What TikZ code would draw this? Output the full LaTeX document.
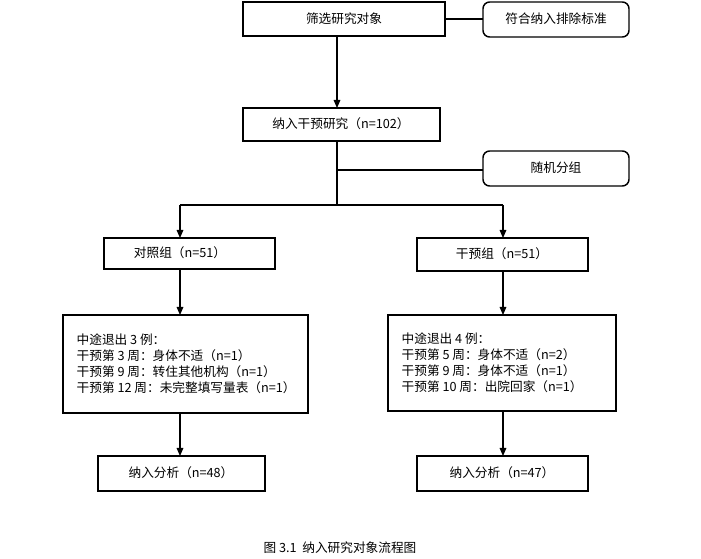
\documentclass[tikz,border=0pt]{standalone}
\usepackage{fontspec}
\setmainfont{Noto Sans CJK SC}
\usetikzlibrary{arrows.meta}
\begin{document}
\begin{tikzpicture}[x=0.75pt,y=-0.75pt,
 box/.style={draw,line width=1.1pt,inner sep=0pt},
 rbox/.style={draw,line width=1.1pt,rounded corners=5pt},
 ln/.style={line width=0.8pt},
 ar/.style={ln,-{Triangle[length=6pt,width=5pt]}},
 txt/.style={font=\fontsize{9.5pt}{12pt}\selectfont}]
\useasboundingbox (0,0) rectangle (701,559);
\draw[box] (243,2) rectangle (445,36); \node[txt] (a) at (344,19) {筛选研究对象};
\draw[rbox] (483,2) rectangle (629,37); \node[txt] (b) at (556,19) {符合纳入排除标准};
\draw[box] (243,108) rectangle (440,141); \node[txt] (c) at (341,124) {纳入干预研究（n=102）};
\draw[rbox] (483,151) rectangle (629,186); \node[txt] (d) at (556,168) {随机分组};
\draw[box] (104,238) rectangle (275,269); \node[txt] (e) at (180,253) {对照组（n=51）};
\draw[box] (417,238) rectangle (588,271); \node[txt] (f) at (502,254) {干预组（n=51）};
\draw[box] (63,315) rectangle (308,413);
\node[txt,align=left,anchor=west] (g) at (72,364) {中途退出 3 例：\\干预第 3 周：身体不适（n=1）\\干预第 9 周：转住其他机构（n=1）\\干预第 12 周：未完整填写量表（n=1）};
\draw[box] (388,315) rectangle (616,411);
\node[txt,align=left,anchor=west] (h) at (397,363) {中途退出 4 例：\\干预第 5 周：身体不适（n=2）\\干预第 9 周：身体不适（n=1）\\干预第 10 周：出院回家（n=1）};
\draw[box] (98,456) rectangle (265,491); \node[txt] (i) at (181,473) {纳入分析（n=48）};
\draw[box] (417,456) rectangle (588,491); \node[txt] (j) at (502,473) {纳入分析（n=47）};
\node[txt] (cap) at (340,548) {图 3.1\ \ 纳入研究对象流程图};
\draw[ln,line width=1.1pt] (445,19) -- (483,19);
\draw[ar] (337,36) -- (337,108);
\draw[ln] (337,141) -- (337,205);
\draw[ln,line width=1.1pt] (337,170) -- (483,170);
\draw[ln,line width=1.1pt] (180,205) -- (503,205);
\draw[ar] (180,205) -- (180,238);
\draw[ar] (503,205) -- (503,238);
\draw[ar] (180,269) -- (180,315);
\draw[ar] (503,271) -- (503,315);
\draw[ar] (180,413) -- (180,456);
\draw[ar] (503,411) -- (503,456);
\end{tikzpicture}
\end{document}
